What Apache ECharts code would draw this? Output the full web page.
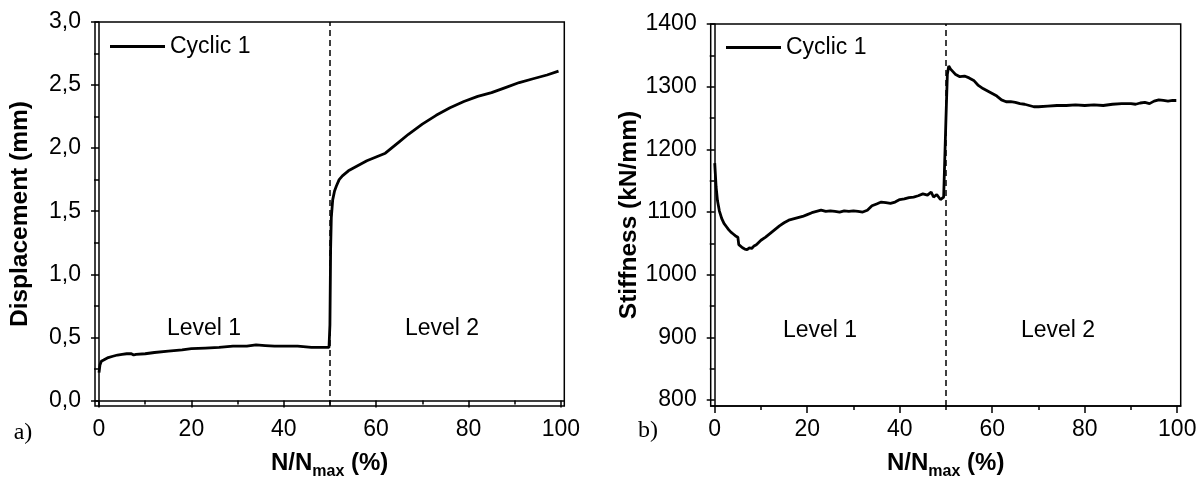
<!DOCTYPE html>
<html>
<head>
<meta charset="utf-8">
<script src="https://cdn.jsdelivr.net/npm/echarts@6/dist/echarts.min.js"></script>
<style>
html, body { margin: 0; padding: 0; background: #fff; }
#main { width: 1204px; height: 485px; }
</style>
</head>
<body>
<div id="main"></div>
<script>
var FONT = '"Liberation Sans", Arial, sans-serif';
var SERIF = '"Liberation Serif", "Times New Roman", serif';
var FONTSIZE = 23;
var TITLESIZE = 24.5;

// x tick values (%)
var xMajorTicks = [0, 20, 40, 60, 80, 100];
var xMinorTicks = [10, 30, 50, 70, 90];
// y tick values, chart a)
var dispMajorTicks = [0, 0.5, 1.0, 1.5, 2.0, 2.5, 3.0];
var dispMinorTicks = [0.25, 0.75, 1.25, 1.75, 2.25, 2.75];
// y tick values, chart b)
var stiffMajorTicks = [800, 900, 1000, 1100, 1200, 1300, 1400];
var stiffMinorTicks = [850, 950, 1050, 1150, 1250, 1350];

var levelBoundary = 50;

// displacement (mm) vs N/Nmax (%)
var displacementData = [
	[0, 0.22], [0.2, 0.28], [0.5, 0.31], [1, 0.32], [2, 0.34], [3, 0.35], [4, 0.36],
	[5, 0.365], [6, 0.37], [7, 0.37], [7.5, 0.36], [8, 0.365], [10, 0.37], [12, 0.38],
	[15, 0.39], [18, 0.40], [20, 0.41], [23, 0.415], [26, 0.42], [29, 0.43], [32, 0.43],
	[34, 0.44], [36, 0.435], [38, 0.43], [40, 0.43], [43, 0.43], [46, 0.42], [49.8, 0.42],
	[50.0, 0.6], [50.15, 1.2], [50.3, 1.45], [50.6, 1.59], [51.0, 1.66], [51.4, 1.70],
	[52, 1.75], [52.7, 1.78], [54, 1.82], [56, 1.86], [58, 1.90], [60, 1.93], [62, 1.96],
	[63, 1.99], [65, 2.05], [67, 2.11], [70, 2.19], [73, 2.26], [76, 2.32], [79, 2.37],
	[82, 2.41], [85, 2.44], [88, 2.48], [91, 2.52], [94, 2.55], [97, 2.58], [99.5, 2.61]
];

// stiffness (kN/mm) vs N/Nmax (%)
var stiffnessData = [
	[0, 1178], [0.3, 1140], [0.6, 1118], [1, 1102], [1.5, 1090], [2, 1082], [2.5, 1077],
	[3, 1072], [3.5, 1068], [4, 1065], [4.5, 1062], [5, 1060], [5.2, 1048], [5.5, 1046],
	[6, 1043], [6.5, 1041], [7, 1040], [7.5, 1043], [8, 1042], [8.5, 1046], [9, 1048],
	[10, 1055], [11, 1060], [12, 1066], [13, 1072], [14, 1078], [15, 1083], [16, 1087],
	[17, 1089], [18, 1091], [19, 1093], [20, 1096], [21, 1099], [22, 1101], [23, 1103],
	[24, 1101], [25, 1102], [26, 1101], [27, 1100], [28, 1102], [29, 1101], [30, 1102],
	[31, 1101], [32, 1100], [33, 1103], [34, 1110], [35, 1113], [36, 1116], [37, 1115],
	[38, 1114], [39, 1116], [40, 1120], [41, 1121], [42, 1123], [43, 1124], [44, 1126],
	[45, 1129], [46, 1127], [46.8, 1132], [47.3, 1124], [48, 1128], [48.8, 1120],
	[49.5, 1124], [49.8, 1122], [50.0, 1250], [50.3, 1320], [50.6, 1333], [51, 1328],
	[52, 1320], [53, 1316], [54, 1317], [55, 1314], [56, 1310], [57, 1302], [58, 1297],
	[59, 1293], [60, 1289], [61, 1285], [62, 1279], [63, 1276], [64, 1276], [65, 1275],
	[66, 1273], [67, 1272], [68, 1270], [69, 1268], [70, 1268], [72, 1269], [74, 1270],
	[76, 1270], [78, 1271], [80, 1270], [82, 1271], [84, 1270], [86, 1272], [88, 1273],
	[90, 1273], [91, 1272], [92, 1274], [93, 1275], [94, 1273], [95, 1277], [96, 1279],
	[97, 1278], [98, 1277], [99, 1278], [99.8, 1278]
];

var xName = '{a|N/N}{b|max}{a| (%)}';
var xNameRich = {
	a: { fontSize: 24, fontWeight: 'bold', fontFamily: FONT, color: '#000', lineHeight: 24 },
	b: { fontSize: 16, fontWeight: 'bold', fontFamily: FONT, color: '#000', lineHeight: 16, padding: [18, 0, 0, 0] }
};

function commaFormat(v) {
	return v.toFixed(1).replace('.', ',');
}

function mainXAxis(gridIndex) {
	return {
		type: 'value', gridIndex: gridIndex, position: 'bottom',
		min: -0.87, max: 100.75,
		name: xName, nameLocation: 'middle', nameGap: 44,
		nameTextStyle: { rich: xNameRich },
		axisLine: { show: true, lineStyle: { color: '#000', width: 1.5 } },
		axisTick: { show: true, customValues: xMajorTicks, length: 7, lineStyle: { color: '#000', width: 1.5 } },
		axisLabel: { customValues: xMajorTicks, margin: 12, fontSize: FONTSIZE, fontFamily: FONT, color: '#000' },
		splitLine: { show: false }
	};
}
function minorXAxis(gridIndex) {
	return {
		type: 'value', gridIndex: gridIndex, position: 'bottom', offset: 0,
		min: -0.87, max: 100.75,
		axisLine: { show: false },
		axisTick: { show: true, customValues: xMinorTicks, length: 4, lineStyle: { color: '#000', width: 1.5 } },
		axisLabel: { show: false },
		splitLine: { show: false }
	};
}
function yAxisPair(gridIndex, min, max, majors, minors, name, fmt) {
	return [{
		type: 'value', gridIndex: gridIndex, position: 'left',
		min: min, max: max,
		name: name, nameLocation: 'middle', nameGap: 62,
		nameTextStyle: { fontSize: TITLESIZE, fontWeight: 'bold', fontFamily: FONT, color: '#000' },
		axisLine: { show: true, lineStyle: { color: '#000', width: 1.5 } },
		axisTick: { show: true, customValues: majors, length: 8, lineStyle: { color: '#000', width: 1.5 } },
		axisLabel: { customValues: majors, margin: 14, fontSize: FONTSIZE, fontFamily: FONT, color: '#000', formatter: fmt },
		splitLine: { show: false }
	}, {
		type: 'value', gridIndex: gridIndex, position: 'left', offset: 0,
		min: min, max: max,
		axisLine: { show: false },
		axisTick: { show: true, customValues: minors, length: 5, lineStyle: { color: '#000', width: 1.5 } },
		axisLabel: { show: false },
		splitLine: { show: false }
	}];
}

function boundaryLine() {
	return {
		silent: true, symbol: ['none', 'none'],
		label: { show: false },
		lineStyle: { type: [6, 4], color: '#000', width: 1.5 },
		data: [{ xAxis: levelBoundary }]
	};
}

function textEl(text, x, y, font) {
	return {
		type: 'text', x: x, y: y, silent: true,
		style: { text: text, font: font, fill: '#000', align: 'center', verticalAlign: 'middle' }
	};
}

var chartObj = echarts.init(document.getElementById('main'));
var dispY = yAxisPair(0, -0.045, 3.0, dispMajorTicks, dispMinorTicks, 'Displacement (mm)', commaFormat);
var stiffY = yAxisPair(1, 790.5, 1400, stiffMajorTicks, stiffMinorTicks, 'Stiffness (kN/mm)', function(v) { return String(v); });
var option = {
	animation: false,
	backgroundColor: '#fff',
	grid: [
		{ left: 95, top: 22, width: 469.3, height: 385.7, show: true, borderColor: '#000', borderWidth: 1.5, backgroundColor: 'transparent' },
		{ left: 710.7, top: 24, width: 470, height: 385.3, show: true, borderColor: '#000', borderWidth: 1.5, backgroundColor: 'transparent' }
	],
	legend: [
		{ left: 105, top: 30, icon: 'rect', itemWidth: 55, itemHeight: 3, data: ['Cyclic 1'],
			textStyle: { fontSize: FONTSIZE, fontFamily: FONT, color: '#000' } },
		{ left: 721, top: 31, icon: 'rect', itemWidth: 55, itemHeight: 3, data: ['Cyclic 1'],
			textStyle: { fontSize: FONTSIZE, fontFamily: FONT, color: '#000' } }
	],
	xAxis: [mainXAxis(0), minorXAxis(0), mainXAxis(1), minorXAxis(1)],
	yAxis: [dispY[0], dispY[1], stiffY[0], stiffY[1]],
	series: [
		{
			name: 'Cyclic 1', type: 'line', xAxisIndex: 0, yAxisIndex: 0,
			data: displacementData, showSymbol: false, smooth: false,
			lineStyle: { color: '#000', width: 2.8 }, itemStyle: { color: '#000' },
			markLine: boundaryLine()
		},
		{
			name: 'Cyclic 1', type: 'line', xAxisIndex: 2, yAxisIndex: 2,
			data: stiffnessData, showSymbol: false, smooth: false,
			lineStyle: { color: '#000', width: 2.8 }, itemStyle: { color: '#000' },
			markLine: boundaryLine()
		}
	],
	graphic: [
		textEl('a)', 23, 433, '24px ' + SERIF),
		textEl('b)', 648, 431, '24px ' + SERIF),
		textEl('Level 1', 204, 329, FONTSIZE + 'px ' + FONT),
		textEl('Level 2', 442, 329, FONTSIZE + 'px ' + FONT),
		textEl('Level 1', 820, 331, FONTSIZE + 'px ' + FONT),
		textEl('Level 2', 1058, 331, FONTSIZE + 'px ' + FONT)
	]
};
chartObj.setOption(option);
</script>
</body>
</html>
